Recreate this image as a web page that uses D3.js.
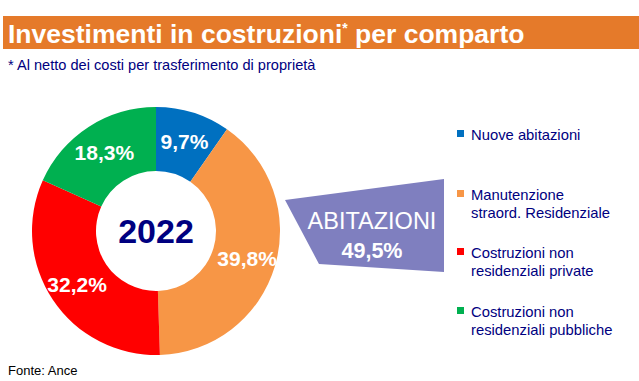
<!DOCTYPE html>
<html>
<head>
<meta charset="utf-8">
<script src="https://cdn.jsdelivr.net/npm/d3@7"></script>
<style>
  body { margin: 0; background: #fff; }
  svg { display: block; font-family: "Liberation Sans", Arial, sans-serif; }
</style>
</head>
<body>
<div id="chart"></div>
<script>
// data
var categories = ["Nuove abitazioni", "Manutenzione straord. Residenziale", "Costruzioni non residenziali private", "Costruzioni non residenziali pubbliche"];
var legendLines = [["Nuove abitazioni"], ["Manutenzione", "straord. Residenziale"], ["Costruzioni non", "residenziali private"], ["Costruzioni non", "residenziali pubbliche"]];
var shares = [9.7, 39.8, 32.2, 18.3];
var colors = ["#0070C0", "#F79646", "#FF0000", "#00B050"];
var year = "2022";
var abitazioniLabel = "ABITAZIONI";
var abitazioniShare = 49.5;

var width = 639, height = 381;
var navy = "#000080";

var svg = d3.select("#chart").append("svg")
  .attr("width", width)
  .attr("height", height);

// title bar
svg.append("rect")
  .attr("x", 3).attr("y", 16)
  .attr("width", width - 3).attr("height", 33)
  .attr("fill", "#E57A2A");

var title = svg.append("text")
  .attr("x", 8).attr("y", 43)
  .attr("fill", "#fff")
  .attr("font-size", 26.5)
  .attr("font-weight", "bold");
title.append("tspan").text("Investimenti in costruzioni");
title.append("tspan").attr("dy", -10).attr("font-size", 14).text("*");
title.append("tspan").attr("dy", 10).text(" per comparto");

svg.append("text")
  .attr("x", 8).attr("y", 70)
  .attr("fill", navy)
  .attr("font-size", 14.6)
  .text("* Al netto dei costi per trasferimento di proprietà");

// donut
var cx = 156, cy = 231, outerR = 124, innerR = 60;
var pie = d3.pie().sort(null).value(function (d) { return d; });
var arc = d3.arc().innerRadius(innerR).outerRadius(outerR);
var arcs = pie(shares);

var g = svg.append("g").attr("transform", "translate(" + cx + "," + cy + ")");

g.selectAll("path")
  .data(arcs)
  .enter()
  .append("path")
  .attr("d", arc)
  .attr("fill", function (d, i) { return colors[i]; });

// labels sit towards the outer edge
var labelArc = d3.arc().innerRadius(outerR - 29).outerRadius(outerR - 29);
var fmt = function (v) { return String(v).replace(".", ",") + "%"; };

g.selectAll("text.pct")
  .data(arcs)
  .enter()
  .append("text")
  .attr("class", "pct")
  .attr("transform", function (d) {
    var c = labelArc.centroid(d);
    return "translate(" + c[0] + "," + c[1] + ")";
  })
  .attr("text-anchor", "middle")
  .attr("dy", "0.4em")
  .attr("fill", "#fff")
  .attr("font-size", 21)
  .attr("font-weight", "bold")
  .text(function (d) { return fmt(d.data); });

g.append("text")
  .attr("text-anchor", "middle")
  .attr("dy", "0.36em")
  .attr("fill", navy)
  .attr("font-size", 34)
  .attr("font-weight", "bold")
  .text(year);

// abitazioni callout
svg.append("polygon")
  .attr("points", "285,200 444,179 444,272 319,264")
  .attr("fill", "#7F7FBF");

svg.append("text")
  .attr("x", 372).attr("y", 229)
  .attr("text-anchor", "middle")
  .attr("fill", "#fff")
  .attr("font-size", 23.5)
  .text(abitazioniLabel);

svg.append("text")
  .attr("x", 372).attr("y", 258)
  .attr("text-anchor", "middle")
  .attr("fill", "#fff")
  .attr("font-size", 21.5)
  .attr("font-weight", "bold")
  .text(fmt(abitazioniShare));

// legend
var legendY = [140, 200, 258, 317];
var legend = svg.append("g");
categories.forEach(function (c, i) {
  var item = legend.append("g").attr("transform", "translate(457," + legendY[i] + ")");
  item.append("rect")
    .attr("x", 0).attr("y", -10)
    .attr("width", 7).attr("height", 7)
    .attr("fill", colors[i]);
  legendLines[i].forEach(function (line, j) {
    item.append("text")
      .attr("x", 14).attr("y", j * 18)
      .attr("fill", navy)
      .attr("font-size", 14.8)
      .text(line);
  });
});

svg.append("text")
  .attr("x", 8).attr("y", 375)
  .attr("fill", "#000")
  .attr("font-size", 13)
  .text("Fonte: Ance");
</script>
</body>
</html>
